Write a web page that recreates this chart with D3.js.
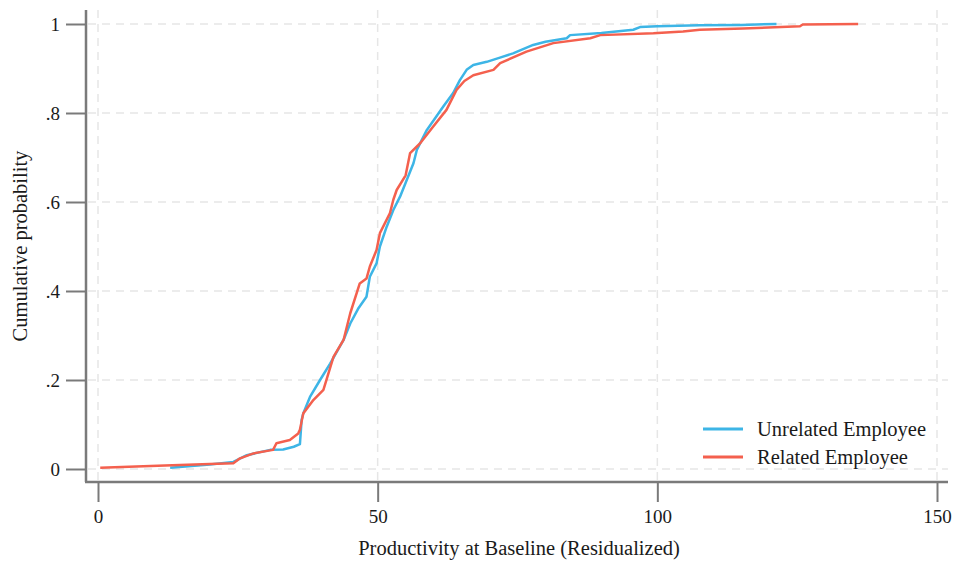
<!DOCTYPE html>
<html>
<head>
<meta charset="utf-8">
<script src="https://cdn.jsdelivr.net/npm/d3@7"></script>
<style>
  body { margin: 0; background: #fff; }
  svg text { font-family: "Liberation Serif", "DejaVu Serif", serif; fill: #1a1a1a; }
</style>
</head>
<body>
<div id="chart-area"></div>
<script>
const unrelatedX = [12.9, 20, 24.2, 26.6, 30.8, 33.1, 35.0, 36.1, 36.4, 36.7, 37.9, 39.7, 41.5, 43.9, 45.1, 46.5, 48.0, 48.6, 49.8, 50.4, 51.6, 52.8, 54.0, 56.4, 57.0, 58.8, 61.7, 63.5, 64.7, 65.9, 67.1, 69.5, 72, 74.2, 77.8, 80, 83.8, 84.4, 90, 95.7, 96.9, 100, 107.6, 115, 121.3];
const unrelatedP = [0.003, 0.010, 0.016, 0.031, 0.043, 0.044, 0.050, 0.056, 0.110, 0.125, 0.162, 0.200, 0.237, 0.290, 0.327, 0.360, 0.387, 0.432, 0.462, 0.500, 0.544, 0.582, 0.612, 0.687, 0.717, 0.762, 0.814, 0.845, 0.874, 0.897, 0.908, 0.915, 0.925, 0.934, 0.953, 0.960, 0.968, 0.975, 0.980, 0.987, 0.993, 0.995, 0.997, 0.998, 1.0];

const relatedX = [0.4, 12, 20, 24.2, 25.4, 27.8, 31.3, 31.9, 34.3, 35.8, 36.1, 36.7, 38.5, 40.3, 42.1, 43.9, 45.1, 46.8, 48.0, 48.6, 49.8, 50.4, 52.2, 52.8, 53.4, 55.0, 55.8, 57.6, 59.9, 62.3, 64.1, 65.5, 67.1, 70.7, 71.9, 76.6, 81.4, 88.0, 89.8, 99.3, 104.6, 107.6, 115.3, 125.5, 126, 135.9];
const relatedP = [0.003, 0.008, 0.011, 0.013, 0.024, 0.035, 0.043, 0.058, 0.065, 0.080, 0.088, 0.125, 0.155, 0.178, 0.252, 0.290, 0.350, 0.417, 0.428, 0.455, 0.492, 0.530, 0.575, 0.605, 0.627, 0.660, 0.710, 0.732, 0.769, 0.807, 0.852, 0.872, 0.885, 0.897, 0.912, 0.938, 0.957, 0.968, 0.975, 0.979, 0.983, 0.987, 0.990, 0.995, 0.999, 1.0];

const xTicks = [0, 50, 100, 150];
const yTicks = [0, 0.2, 0.4, 0.6, 0.8, 1];
const yTickLabels = ["0", ".2", ".4", ".6", ".8", "1"];
const seriesNames = ["Unrelated Employee", "Related Employee"];
const seriesColors = ["#3db5e6", "#f4604e"];

const width = 955, height = 563;

const xMapping = d3.scaleLinear().domain([0, 150]).range([98, 937]);
const yMapping = d3.scaleLinear().domain([0, 1]).range([469, 24]);

const axisLeftX = 86, axisBottomY = 482;
const plotTop = 10, plotRight = 948;

const svg = d3.select("#chart-area")
    .append("svg")
        .attr("width", width)
        .attr("height", height);

// dashed grid
const grid = svg.append("g")
    .attr("stroke", "#e6e6e6")
    .attr("stroke-width", 1.5)
    .attr("stroke-dasharray", "8,6");

grid.selectAll(".hgrid")
    .data(yTicks)
    .enter()
    .append("line")
    .attr("x1", axisLeftX + 2)
    .attr("x2", plotRight)
    .attr("y1", d => yMapping(d))
    .attr("y2", d => yMapping(d));

grid.selectAll(".vgrid")
    .data(xTicks)
    .enter()
    .append("line")
    .attr("x1", d => xMapping(d))
    .attr("x2", d => xMapping(d))
    .attr("y1", plotTop)
    .attr("y2", axisBottomY - 2);

// axes
const yAxis = svg.append("g")
    .attr("transform", `translate(${axisLeftX}, 0)`)
    .call(d3.axisLeft(yMapping)
        .tickValues(yTicks)
        .tickFormat((d, i) => yTickLabels[i])
        .tickSize(20)
        .tickPadding(6));
yAxis.select(".domain").remove();

const xAxis = svg.append("g")
    .attr("transform", `translate(0, ${axisBottomY})`)
    .call(d3.axisBottom(xMapping)
        .tickValues(xTicks)
        .tickFormat(d3.format("d"))
        .tickSize(20)
        .tickPadding(8));
xAxis.select(".domain").remove();

svg.selectAll(".tick line")
    .attr("stroke", "#7a7a7a")
    .attr("stroke-width", 2);
svg.selectAll(".tick text")
    .style("font-size", "19px")
    .style("font-family", "'Liberation Serif', serif")
    .attr("fill", "#1a1a1a");

// axis lines
svg.append("line")
    .attr("x1", axisLeftX).attr("x2", axisLeftX)
    .attr("y1", plotTop).attr("y2", axisBottomY)
    .attr("stroke", "#7a7a7a").attr("stroke-width", 2.5);
svg.append("line")
    .attr("x1", axisLeftX - 1).attr("x2", plotRight)
    .attr("y1", axisBottomY).attr("y2", axisBottomY)
    .attr("stroke", "#7a7a7a").attr("stroke-width", 2.5);

// curves
const line = d3.line()
    .x(d => xMapping(d[0]))
    .y(d => yMapping(d[1]));

const series = [
    d3.zip(unrelatedX, unrelatedP),
    d3.zip(relatedX, relatedP)
];

series.forEach(function(data, i) {
    svg.append("path")
        .datum(data)
        .attr("fill", "none")
        .attr("stroke", seriesColors[i])
        .attr("stroke-width", 2.5)
        .attr("stroke-linejoin", "round")
        .attr("d", line);
});

// axis titles
svg.append("text")
    .attr("x", 519)
    .attr("y", 555)
    .attr("text-anchor", "middle")
    .style("font-size", "20.5px")
    .text("Productivity at Baseline (Residualized)");

svg.append("text")
    .attr("transform", `translate(27, ${(plotTop + axisBottomY) / 2}) rotate(-90)`)
    .attr("text-anchor", "middle")
    .style("font-size", "20.5px")
    .text("Cumulative probability");

// legend
const legend = svg.append("g");
seriesNames.forEach(function(name, i) {
    const y = 429 + i * 28;
    legend.append("line")
        .attr("x1", 703).attr("x2", 743)
        .attr("y1", y).attr("y2", y)
        .attr("stroke", seriesColors[i])
        .attr("stroke-width", 3);
    legend.append("text")
        .attr("x", 757)
        .attr("y", y + 7)
        .style("font-size", "20.5px")
        .text(name);
});
</script>
</body>
</html>
